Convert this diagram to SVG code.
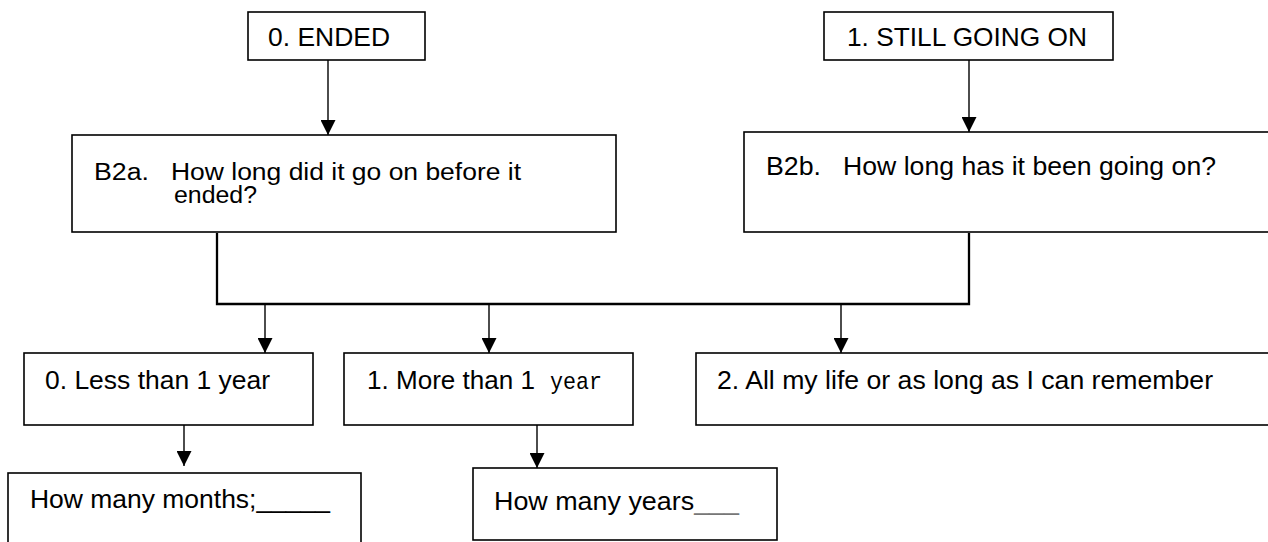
<svg xmlns="http://www.w3.org/2000/svg" width="1268" height="542" viewBox="0 0 1268 542">
<style>
.bg{fill:#ffffff}
.box{fill:#ffffff;stroke:#000000;stroke-width:1.6}
.t{font-family:"Liberation Sans",Arial,sans-serif;font-size:25px;fill:#000000}
.s{font-size:23.5px}
.m{font-family:"Liberation Mono","Courier New",monospace;font-size:24px;fill:#000000}
.arr{fill:none;stroke:#000000;stroke-width:1.4}
.bus{fill:none;stroke:#000000;stroke-width:2.3}
</style>
<defs>
<marker id="ah" markerUnits="userSpaceOnUse" markerWidth="15" markerHeight="15" refX="15" refY="7.5" orient="auto">
<path d="M0,0 L15,7.5 L0,15 z" fill="#000000"/>
</marker>
</defs>
<rect class="bg" x="0" y="0" width="1268" height="542"/>
<g id="connectors">
<line class="arr" x1="328" y1="60" x2="328" y2="135" marker-end="url(#ah)"/>
<line class="arr" x1="969" y1="60" x2="969" y2="132" marker-end="url(#ah)"/>
<polyline class="bus" points="217,233 217,304 969,304 969,233"/>
<line class="arr" x1="265" y1="304" x2="265" y2="353" marker-end="url(#ah)"/>
<line class="arr" x1="489" y1="304" x2="489" y2="353" marker-end="url(#ah)"/>
<line class="arr" x1="841" y1="304" x2="841" y2="353" marker-end="url(#ah)"/>
<line class="arr" x1="184" y1="418" x2="184" y2="466" marker-end="url(#ah)"/>
<line class="arr" x1="537" y1="420" x2="537" y2="468" marker-end="url(#ah)"/>
</g>
<g id="ended">
<rect class="box" x="248" y="12" width="177" height="48"/>
<text class="t" x="268" y="46" textLength="122" lengthAdjust="spacingAndGlyphs">0. ENDED</text>
</g>
<g id="still-going-on">
<rect class="box" x="824" y="12" width="289" height="48"/>
<text class="t" x="847" y="46" textLength="240" lengthAdjust="spacingAndGlyphs">1. STILL GOING ON</text>
</g>
<g id="b2a">
<rect class="box" x="72" y="135" width="544" height="97"/>
<text class="t s" x="94" y="180" textLength="55" lengthAdjust="spacingAndGlyphs">B2a.</text>
<text class="t s" x="171" y="180" textLength="350" lengthAdjust="spacingAndGlyphs">How long did it go on before it</text>
<text class="t s" x="174" y="203" textLength="83" lengthAdjust="spacingAndGlyphs">ended?</text>
</g>
<g id="b2b">
<rect class="box" x="744" y="132" width="540" height="100"/>
<text class="t" x="766" y="175" textLength="55" lengthAdjust="spacingAndGlyphs">B2b.</text>
<text class="t" x="843" y="175" textLength="373" lengthAdjust="spacingAndGlyphs">How long has it been going on?</text>
</g>
<g id="less-than-1-year">
<rect class="box" x="24" y="353" width="289" height="72"/>
<text class="t" x="45" y="389" textLength="225" lengthAdjust="spacingAndGlyphs">0. Less than 1 year</text>
</g>
<g id="more-than-1-year">
<rect class="box" x="344" y="353" width="289" height="72"/>
<text class="t" x="367" y="389" textLength="168" lengthAdjust="spacingAndGlyphs">1. More than 1</text>
<text class="m" x="550" y="389" textLength="52" lengthAdjust="spacingAndGlyphs">year</text>
</g>
<g id="all-my-life">
<rect class="box" x="696" y="353" width="590" height="72"/>
<text class="t" x="717" y="389" textLength="496" lengthAdjust="spacingAndGlyphs">2. All my life or as long as I can remember</text>
</g>
<g id="how-many-months">
<rect class="box" x="8" y="473" width="353" height="90"/>
<text class="t" x="30" y="508" textLength="300" lengthAdjust="spacingAndGlyphs">How many months;_____</text>
</g>
<g id="how-many-years">
<rect class="box" x="473" y="468" width="304" height="72"/>
<text class="t" x="494" y="510" textLength="245" lengthAdjust="spacingAndGlyphs">How many years<tspan fill="#777777">___</tspan></text>
</g>
</svg>
